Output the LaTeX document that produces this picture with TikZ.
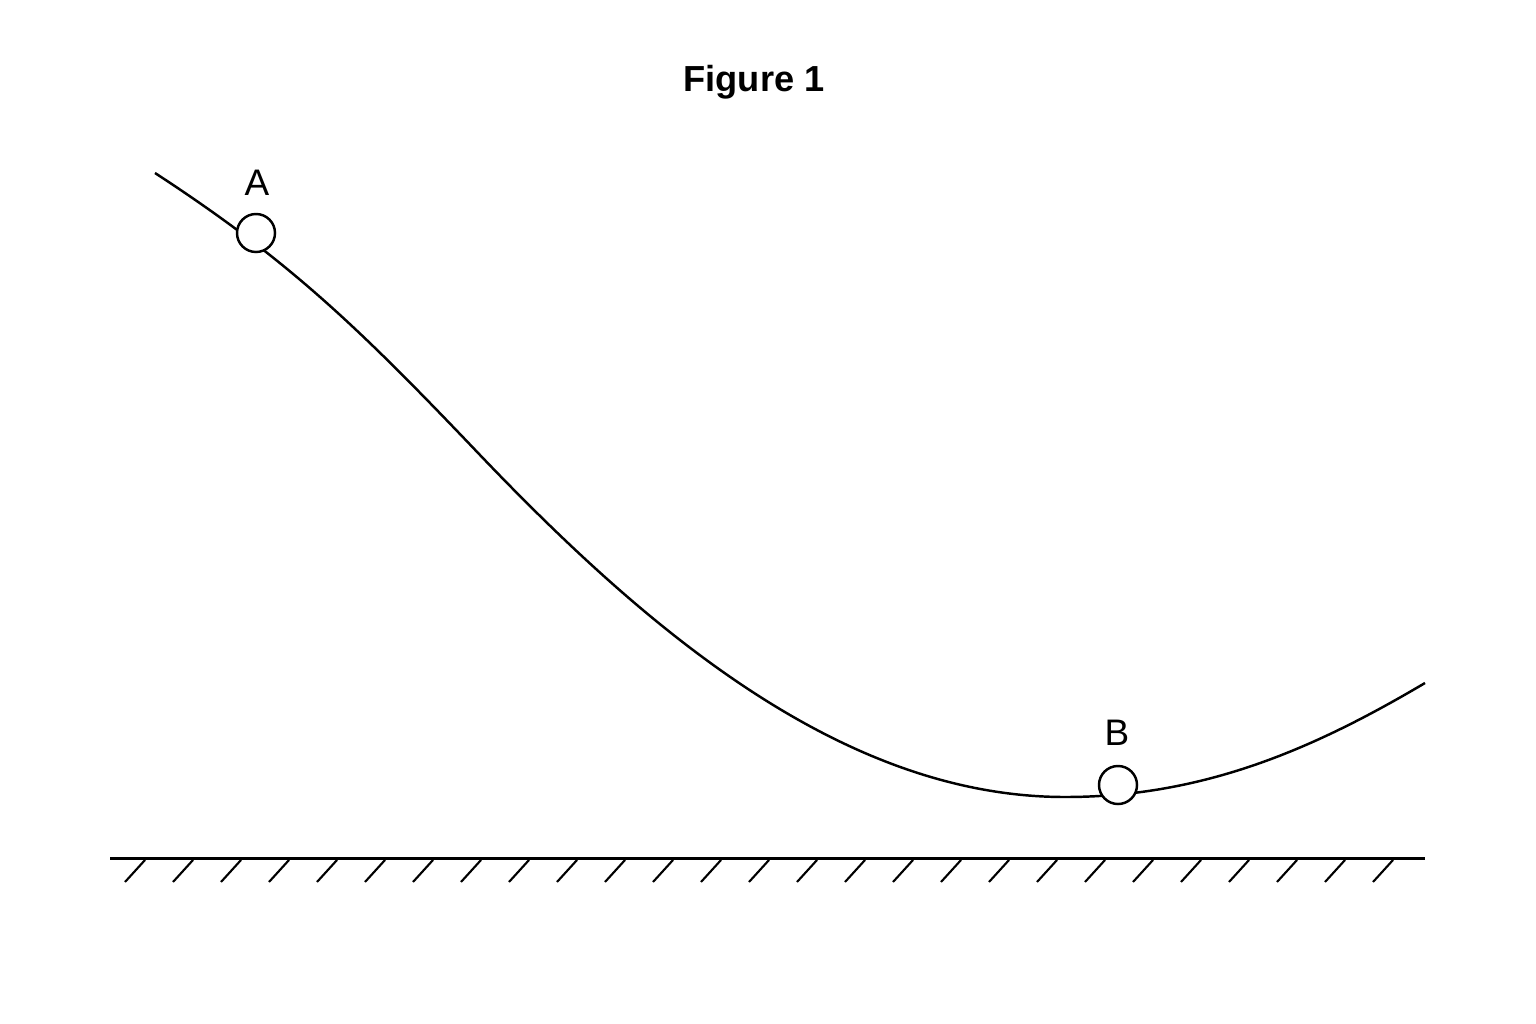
\documentclass[tikz,border=0pt]{standalone}
\usepackage{fontspec}
\setmainfont{Liberation Sans}
\begin{document}
\begin{tikzpicture}[x=0.01cm, y=-0.01cm,
    ball/.style={circle, draw, fill=white, line width=0.7pt, minimum size=0.38cm, inner sep=0pt},
    tag/.style={font=\fontsize{10.5}{12}\selectfont}]

    \useasboundingbox (0, 0) rectangle (1536, 1024);

    % Draw the title
    \node[font=\fontsize{10.3}{12}\selectfont\bfseries] (title) at (754, 82) {Figure 1};

    % Draw the track
    \draw[line width=0.7pt] (155, 173)
        .. controls (290, 261) and (360, 329) .. (480, 455)
        .. controls (650, 633) and (845, 797) .. (1065, 797)
        .. controls (1205, 797) and (1315, 748) .. (1425, 683);

    % Draw the two balls
    \node[ball] (A) at (256, 233) {};
    \node[ball] (B) at (1118, 785) {};
    \node[tag] (labA) at (257, 183) {A};
    \node[tag] (labB) at (1117, 733) {B};

    % Draw the ground
    \draw[line width=0.85pt] (110, 858) -- (1425, 858);
    \foreach \i in {0,...,26}
        \draw[line width=0.6pt] (125 + 48*\i, 882) -- ++(20, -22);

\end{tikzpicture}
\end{document}
